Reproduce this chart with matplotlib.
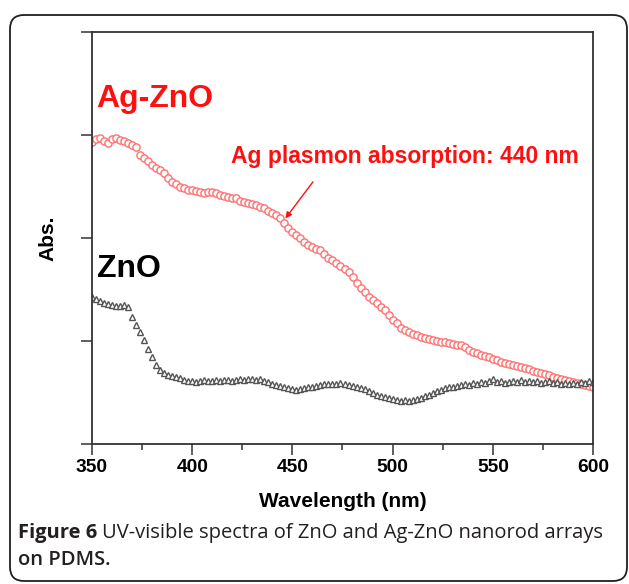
import numpy as np
import matplotlib
matplotlib.use("Agg")
import matplotlib.pyplot as plt
from matplotlib.patches import FancyBboxPatch

# wavelength grid (nm), one reading every 2 nm
wavelength = np.arange(350, 601, 2)

# Ag-ZnO absorbance (arb. units)
ag_zno = [
    2.93, 2.96, 2.97, 2.94, 2.92, 2.96, 2.97, 2.95, 2.94, 2.92,
    2.90, 2.88, 2.81, 2.78, 2.75, 2.71, 2.68, 2.66, 2.63, 2.58,
    2.54, 2.52, 2.50, 2.49, 2.47, 2.47, 2.46, 2.45, 2.44, 2.45,
    2.45, 2.44, 2.42, 2.41, 2.40, 2.39, 2.39, 2.36, 2.35, 2.34,
    2.33, 2.32, 2.30, 2.29, 2.26, 2.24, 2.22, 2.19, 2.15, 2.10,
    2.06, 2.03, 2.00, 1.96, 1.93, 1.91, 1.89, 1.88, 1.84, 1.81,
    1.79, 1.76, 1.73, 1.70, 1.67, 1.62, 1.56, 1.51, 1.48, 1.43,
    1.40, 1.37, 1.33, 1.30, 1.25, 1.20, 1.17, 1.13, 1.11, 1.09,
    1.07, 1.06, 1.04, 1.03, 1.02, 1.01, 1.00, 0.99, 0.99, 0.98,
    0.97, 0.96, 0.96, 0.94, 0.91, 0.89, 0.88, 0.86, 0.85, 0.84,
    0.83, 0.82, 0.80, 0.79, 0.78, 0.77, 0.76, 0.75, 0.74, 0.73,
    0.71, 0.70, 0.69, 0.68, 0.67, 0.65, 0.64, 0.63, 0.62, 0.61,
    0.60, 0.59, 0.58, 0.57, 0.56, 0.55,
]

# ZnO absorbance
zno = [
    1.43, 1.41, 1.39, 1.37, 1.36, 1.35, 1.34, 1.34, 1.35, 1.33,
    1.23, 1.16, 1.09, 1.01, 0.92, 0.84, 0.77, 0.72, 0.69, 0.67,
    0.66, 0.65, 0.64, 0.62, 0.61, 0.61, 0.60, 0.61, 0.62, 0.61,
    0.61, 0.62, 0.61, 0.62, 0.62, 0.61, 0.62, 0.63, 0.62, 0.63,
    0.63, 0.62, 0.63, 0.61, 0.60, 0.58, 0.57, 0.56, 0.55, 0.54,
    0.53, 0.52, 0.53, 0.54, 0.55, 0.55, 0.56, 0.57, 0.58, 0.58,
    0.58, 0.58, 0.59, 0.58, 0.57, 0.56, 0.55, 0.54, 0.53, 0.51,
    0.50, 0.48, 0.47, 0.46, 0.45, 0.44, 0.43, 0.42, 0.43, 0.42,
    0.43, 0.44, 0.45, 0.47, 0.48, 0.50, 0.51, 0.52, 0.54, 0.55,
    0.55, 0.56, 0.57, 0.58, 0.57, 0.59, 0.58, 0.60, 0.59, 0.61,
    0.63, 0.60, 0.61, 0.59, 0.60, 0.61, 0.60, 0.62, 0.60, 0.61,
    0.60, 0.61, 0.59, 0.60, 0.61, 0.59, 0.60, 0.58, 0.59, 0.58,
    0.59, 0.58, 0.60, 0.59, 0.61, 0.60,
]

x_ticks = [350, 400, 450, 500, 550, 600]
y_ticks = [0, 1, 2, 3, 4]

plt.rcParams['font.family'] = ['Liberation Sans', 'DejaVu Sans']

fig = plt.figure(figsize=(6.29, 5.84), dpi=100)
ax = fig.add_axes([92 / 629, 1 - 444 / 584, 501 / 629, 412 / 584])

ax.plot(wavelength, ag_zno, linestyle='none', marker='o', markersize=5.2,
        markerfacecolor='white', markeredgecolor='#ff7070', markeredgewidth=1.0)
ax.plot(wavelength, zno, linestyle='none', marker='^', markersize=5.0,
        markerfacecolor='white', markeredgecolor='#555555', markeredgewidth=1.0)

ax.set_xlim(350, 600)
ax.set_ylim(0, 4)
ax.set_xticks(x_ticks)
ax.set_xticks(np.arange(375, 600, 50), minor=True)
ax.set_yticks(y_ticks)
ax.set_yticklabels([])
ax.tick_params(axis='x', which='major', direction='out', length=8, width=1.1,
               color='#333333', labelsize=13.8, pad=3)
ax.tick_params(axis='x', which='minor', direction='out', length=4, width=1.1,
               color='#333333')
ax.tick_params(axis='y', direction='out', length=8, width=1.1, color='#333333')
for lbl in ax.get_xticklabels():
    lbl.set_fontweight('bold')
for s in ax.spines.values():
    s.set_linewidth(1.3)
    s.set_color('#333333')

ax.set_xlabel('Wavelength (nm)', fontsize=15, fontweight='bold', labelpad=11)
ax.set_ylabel('Abs.', fontsize=15, fontweight='bold', labelpad=13)

ax.text(0.008, 0.818, 'Ag-ZnO', transform=ax.transAxes, color='#ff1010',
        fontsize=23, fontweight='bold')
ax.text(0.010, 0.406, 'ZnO', transform=ax.transAxes, color='black',
        fontsize=23, fontweight='bold')
ax.annotate('Ag plasmon absorption: 440 nm', xy=(446.5, 2.19), xytext=(0.278, 0.682),
            textcoords='axes fraction', color='#ff1010', fontsize=16.5,
            fontweight='bold', ha='left', va='baseline',
            arrowprops=dict(arrowstyle='-|>', color='#ff1010', lw=1.0,
                            mutation_scale=9, shrinkA=0, shrinkB=0,
                            relpos=(0.235, -0.6)))

# caption
cap_font = ['Open Sans', 'DejaVu Sans']
cap_y1 = 1 - 538 / 584
cap_y2 = 1 - 565 / 584
t1 = fig.text(18 / 629, cap_y1, 'Figure 6', fontsize=14.5, fontweight='bold',
              family=cap_font, color='#231f20')
fig.canvas.draw()
bb = t1.get_window_extent()
fig.text((bb.x1 + 5) / 629, cap_y1,
         'UV-visible spectra of ZnO and Ag-ZnO nanorod arrays',
         fontsize=14.5, family=cap_font, color='#231f20')
fig.text(18 / 629, cap_y2, 'on PDMS.', fontsize=14.5, fontweight='semibold',
         family=cap_font, color='#231f20')

# rounded frame around the whole figure
frame = FancyBboxPatch((10, 3), 617, 566, boxstyle='round,pad=0,rounding_size=14',
                       transform=None, facecolor='none', edgecolor='#231f20',
                       linewidth=1.3)
fig.patches.append(frame)

fig.savefig('out.png', dpi=100)
